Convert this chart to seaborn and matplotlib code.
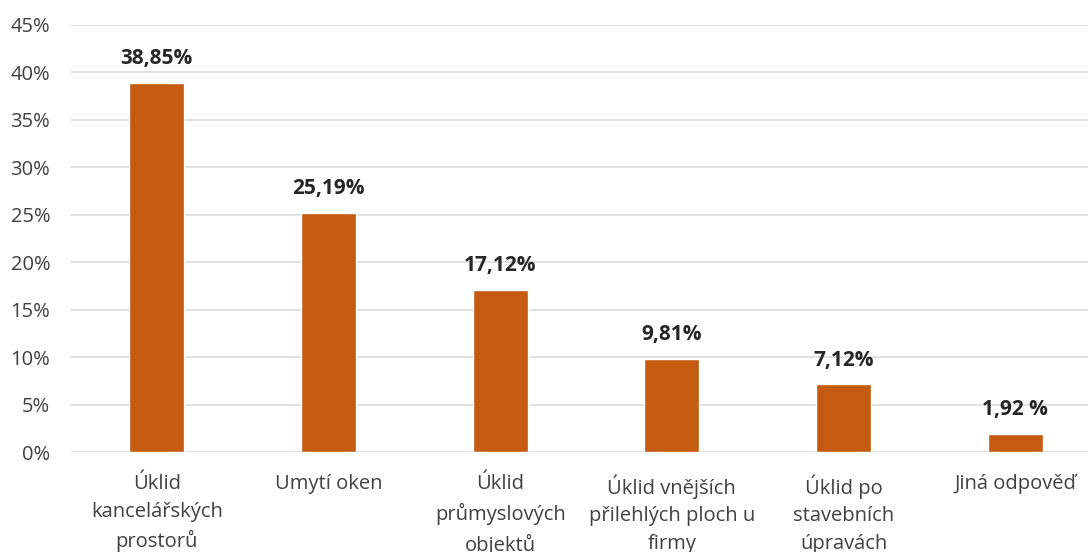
import numpy as np
import pandas as pd
import matplotlib
matplotlib.use("Agg")
import matplotlib.pyplot as plt
import seaborn as sns

categories = ["Úklid\nkancelářských\nprostorů", "Umytí oken", "Úklid\nprůmyslových\nobjektů",
              "Úklid vnějších\npřilehlých ploch u\nfirmy", "Úklid po\nstavebních\núpravách", "Jiná odpověď"]
values = [38.85, 25.19, 17.12, 9.81, 7.12, 1.92]
value_labels = ["38,85%", "25,19%", "17,12%", "9,81%", "7,12%", "1,92 %"]
y_ticks = [0, 5, 10, 15, 20, 25, 30, 35, 40, 45]
y_tick_labels = ["0%", "5%", "10%", "15%", "20%", "25%", "30%", "35%", "40%", "45%"]

df = pd.DataFrame({"cat": categories, "val": values})

sns.set_style("white")
plt.rcParams['font.family'] = ['Open Sans', 'DejaVu Sans']

fig = plt.figure(figsize=(10.88, 5.52), dpi=100)
ax = fig.add_axes([71 / 1088, 100 / 552, 1030 / 1088, 427 / 552])

sns.barplot(data=df, x="cat", y="val", color="#C55A11", width=0.32, saturation=1, ax=ax, zorder=3)

ax.set_ylim(0, 45)
ax.set_xlim(-0.5, 5.5)
ax.set_yticks(y_ticks)
ax.set_yticklabels(y_tick_labels)
ax.grid(axis="y", color="#D9D9D9", linewidth=1.1, zorder=0)
ax.set_axisbelow(True)
for s in ax.spines.values():
    s.set_visible(False)
ax.tick_params(axis="y", length=0, pad=15, labelsize=14.5, labelcolor="#404040")
ax.tick_params(axis="x", length=0, pad=16, labelsize=14.5, labelcolor="#404040")
for t in ax.get_xticklabels():
    t.set_linespacing(1.5)
ax.set_xlabel("")
ax.set_ylabel("")

# popisky hodnot nad sloupci
for i, (v, lab) in enumerate(zip(values, value_labels)):
    ax.annotate(lab, (i, v), xytext=(0, 10), textcoords="offset points",
                ha="center", va="bottom", fontsize=15, fontweight="bold", color="#262626")

fig.savefig("out.png", dpi=100)
